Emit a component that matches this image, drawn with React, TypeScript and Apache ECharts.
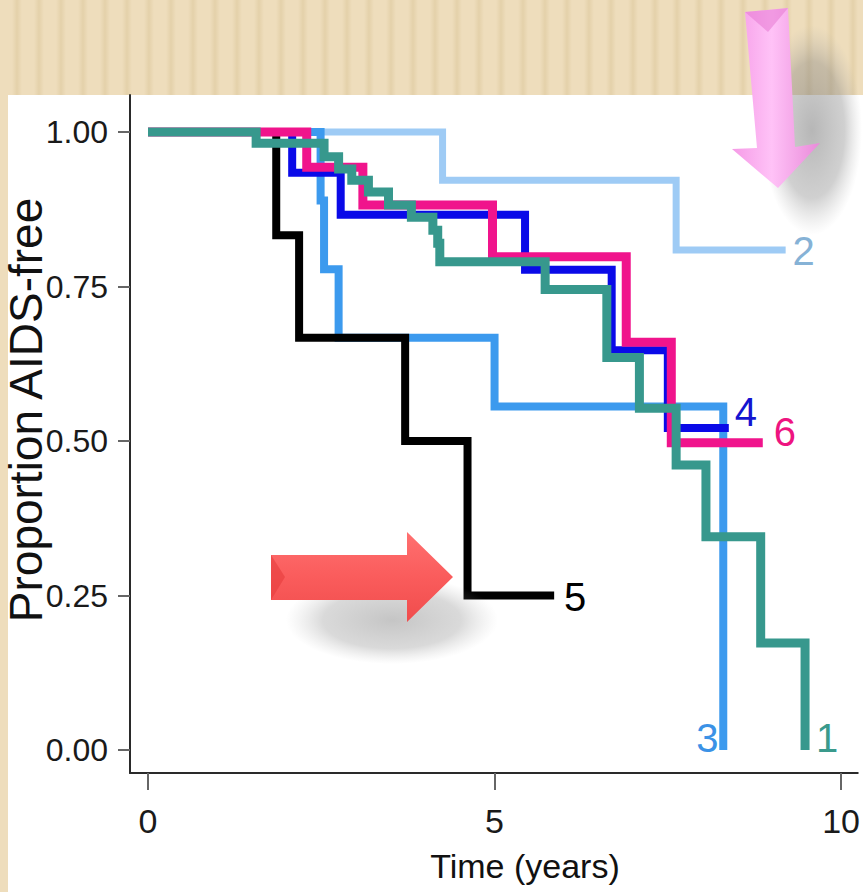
import React, { useEffect, useRef } from 'react';
import * as echarts from 'echarts';

// Kaplan-Meier step curves: time (years) at which survival drops, and the new value
const curve1Times = [0, 1.56, 2.54, 2.75, 2.94, 3.18, 3.47, 3.8, 4.11, 4.18, 4.21, 5.73, 6.62, 7.09, 7.62, 8.05, 8.84, 9.48];
const curve1Surv = [1, 0.982, 0.96, 0.94, 0.922, 0.903, 0.882, 0.862, 0.841, 0.82, 0.79, 0.745, 0.635, 0.553, 0.461, 0.345, 0.173, 0];

const curve2Times = [0, 4.25, 7.62, 9.2];
const curve2Surv = [1, 0.922, 0.809, 0.809];

const curve3Times = [0, 2.49, 2.54, 2.75, 5.0, 8.3];
const curve3Surv = [1, 0.889, 0.778, 0.667, 0.556, 0];

const curve4Times = [0, 2.08, 2.78, 5.44, 6.69, 7.5, 8.38];
const curve4Surv = [1, 0.934, 0.866, 0.777, 0.647, 0.521, 0.521];

const curve5Times = [0, 1.85, 2.18, 3.71, 4.61, 5.86];
const curve5Surv = [1, 0.833, 0.667, 0.5, 0.25, 0.25];

const curve6Times = [0, 2.29, 3.1, 4.97, 6.9, 7.55, 8.87];
const curve6Surv = [1, 0.943, 0.882, 0.798, 0.66, 0.497, 0.497];

const xTickValues = [0, 5, 10];
const yTickValues = [0, 0.25, 0.5, 0.75, 1];
const xAxisTitle = 'Time (years)';
const yAxisTitle = 'Proportion AIDS-free';

const FONT = '"Liberation Sans", Arial, sans-serif';

export default function App() {
  const ref = useRef<HTMLDivElement>(null);

  useEffect(() => {
    if (!ref.current) return;
    const chart = echarts.init(ref.current, null, { renderer: 'svg' });

    // drawing order: first drawn is at the bottom
    const curves = [
      { label: '2', times: curve2Times, surv: curve2Surv, color: '#9ECBF5', width: 7, labelColor: '#86B2D6', dx: 18, dy: 1 },
      { label: '3', times: curve3Times, surv: curve3Surv, color: '#3C9AEE', width: 8, labelColor: '#3B92E6', dx: -16, dy: -12 },
      { label: '5', times: curve5Times, surv: curve5Surv, color: '#000000', width: 8, labelColor: '#000000', dx: 21, dy: 1 },
      { label: '4', times: curve4Times, surv: curve4Surv, color: '#0A0AE8', width: 8, labelColor: '#1414D0', dx: 17, dy: -16 },
      { label: '6', times: curve6Times, surv: curve6Surv, color: '#F0148C', width: 9, labelColor: '#EE1480', dx: 22, dy: -11 },
      { label: '1', times: curve1Times, surv: curve1Surv, color: '#37988D', width: 9, labelColor: '#3A9A8C', dx: 22, dy: -12 },
    ];

    chart.setOption({
      animation: false,
      backgroundColor: 'transparent',
      grid: { left: 130, top: 95, right: 0, bottom: 119, containLabel: false },
      xAxis: {
        type: 'value',
        min: -0.26,
        max: 10.24,
        splitLine: { show: false },
        axisLine: { show: true, onZero: false, lineStyle: { color: '#2a2a2a', width: 2 } },
        axisTick: { show: true, customValues: xTickValues, length: 17, lineStyle: { color: '#666', width: 2 } },
        axisLabel: {
          customValues: xTickValues,
          formatter: (v: number) => String(v),
          fontSize: 34,
          fontFamily: FONT,
          color: '#1a1a1a',
          margin: 31,
        },
      },
      yAxis: {
        type: 'value',
        min: -0.0372,
        max: 1.0599,
        splitLine: { show: false },
        axisLine: { show: true, onZero: false, lineStyle: { color: '#2a2a2a', width: 2 } },
        axisTick: { show: true, customValues: yTickValues, length: 12, lineStyle: { color: '#666', width: 2 } },
        axisLabel: {
          customValues: yTickValues,
          formatter: (v: number) => v.toFixed(2),
          fontSize: 32,
          fontFamily: FONT,
          color: '#1a1a1a',
          margin: 22,
        },
      },
      series: curves.map((c) => ({
        type: 'line',
        name: c.label,
        step: 'end',
        showSymbol: false,
        symbol: 'none',
        data: c.times.map((t, i) => [t, c.surv[i]]),
        lineStyle: { color: c.color, width: c.width, join: 'miter', cap: 'butt' },
        itemStyle: { color: c.color },
      })),
    });

    const labelGraphics = curves.map((c) => {
      const last = [c.times[c.times.length - 1], c.surv[c.surv.length - 1]];
      const p = chart.convertToPixel({ gridIndex: 0 }, last) as number[];
      return {
        type: 'text',
        x: p[0] + c.dx,
        y: p[1] + c.dy,
        z: 50,
        style: {
          text: c.label,
          fill: c.labelColor,
          fontSize: 40,
          fontFamily: FONT,
          align: 'center',
          verticalAlign: 'middle',
        },
      };
    });

    const shadowFill = (a: number) => ({
      type: 'radial',
      x: 0.5,
      y: 0.5,
      r: 0.5,
      colorStops: [
        { offset: 0, color: `rgba(110,110,110,${a})` },
        { offset: 0.65, color: `rgba(130,130,130,${a * 0.75})` },
        { offset: 1, color: 'rgba(170,170,170,0)' },
      ],
    });

    chart.setOption({
      graphic: [
        // axis titles
        {
          type: 'text',
          x: 525,
          y: 866,
          z: 50,
          style: { text: xAxisTitle, fill: '#111', fontSize: 34, fontFamily: FONT, align: 'center', verticalAlign: 'middle' },
        },
        {
          type: 'text',
          x: 26,
          y: 410,
          rotation: Math.PI / 2,
          z: 50,
          style: { text: yAxisTitle, fill: '#111', fontSize: 46, fontFamily: FONT, align: 'center', verticalAlign: 'middle' },
        },
        // shadows of the arrows
        { type: 'ellipse', z: 90, shape: { cx: 812, cy: 130, rx: 50, ry: 105 }, style: { fill: shadowFill(0.5) } },
        { type: 'ellipse', z: 90, shape: { cx: 392, cy: 620, rx: 106, ry: 44 }, style: { fill: shadowFill(0.4) } },
        // pink down arrow
        {
          type: 'polygon',
          z: 100,
          shape: { points: [[745, 12], [788, 8], [795, 147], [820, 143], [778, 188], [732, 149], [757, 148]] },
          style: {
            fill: {
              type: 'linear', x: 0, y: 0, x2: 1, y2: 0,
              colorStops: [
                { offset: 0, color: '#F59AE6' },
                { offset: 0.45, color: '#FFC2F7' },
                { offset: 1, color: '#E98AD9' },
              ],
            },
          },
        },
        {
          type: 'polygon',
          z: 101,
          shape: { points: [[745, 12], [788, 8], [768, 32]] },
          style: { fill: 'rgba(230,120,210,0.55)' },
        },
        // red right arrow
        {
          type: 'polygon',
          z: 100,
          shape: { points: [[271, 555], [407, 555], [407, 532], [453, 577], [407, 622], [407, 600], [271, 600]] },
          style: {
            fill: {
              type: 'linear', x: 0, y: 0, x2: 0, y2: 1,
              colorStops: [
                { offset: 0, color: '#FF7070' },
                { offset: 0.5, color: '#FA5C5C' },
                { offset: 1, color: '#F04C4C' },
              ],
            },
          },
        },
        {
          type: 'polygon',
          z: 101,
          shape: { points: [[271, 555], [285, 577], [271, 600]] },
          style: { fill: 'rgba(230,60,60,0.6)' },
        },
        ...labelGraphics,
      ],
    });

    return () => chart.dispose();
  }, []);

  return (
    <div
      style={{
        position: 'absolute',
        left: 0,
        top: 0,
        width: 863,
        height: 892,
        overflow: 'hidden',
        background:
          'repeating-linear-gradient(90deg, #EEDDBC 0px, #EEDDBC 12px, #E4D1AA 17px, #EEDDBC 22px)',
      }}
    >
      <div style={{ position: 'absolute', left: 8, top: 95, width: 855, height: 797, background: '#FFFFFF' }} />
      <div ref={ref} style={{ position: 'absolute', left: 0, top: 0, width: 863, height: 892 }} />
    </div>
  );
}
